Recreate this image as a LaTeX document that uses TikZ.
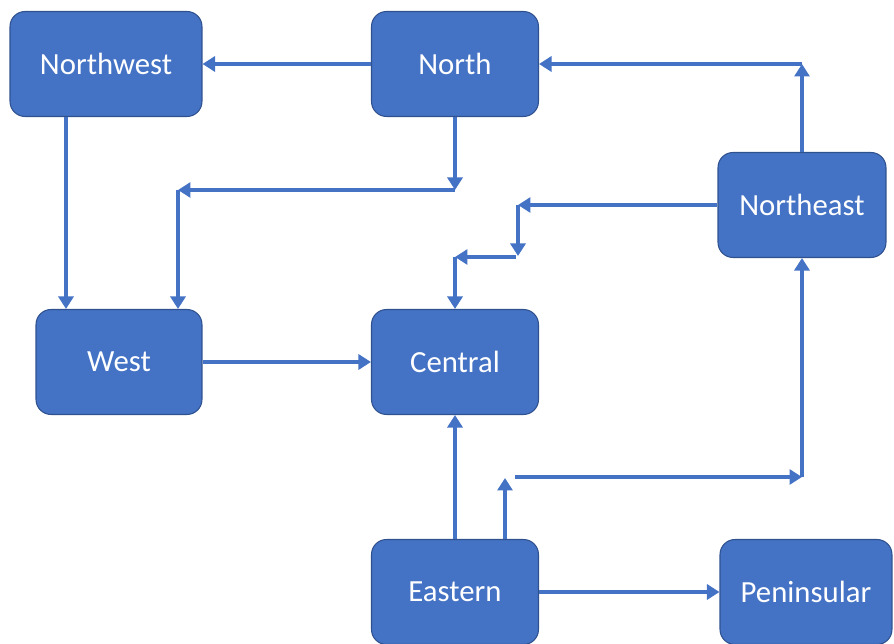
\documentclass[tikz,border=0pt]{standalone}
\usepackage{fontspec}
\setmainfont{Carlito}
\usetikzlibrary{arrows.meta}
\definecolor{boxblue}{HTML}{4472C4}
\definecolor{boxedge}{HTML}{2F528F}

\begin{document}
\begin{tikzpicture}[x=0.02cm, y=-0.02cm]
    \tikzset{region/.style={draw=boxedge, fill=boxblue, line width=0.6pt, rounded corners=0.3cm,
            text=white, minimum width=3.34cm, minimum height=2.1cm, font=\fontsize{17.5}{20}\selectfont},
        link/.style={draw=boxblue, line width=0.08cm, -{Triangle[length=0.25cm, width=0.3cm]}}}
    \useasboundingbox (0,0) rectangle (894,644);
    \node[region, minimum width=3.84cm] (NW) at (106,64) {Northwest};
    \node[region] (N) at (455,64) {North};
    \node[region, minimum width=3.36cm] (NE) at (802,205) {Northeast};
    \node[region, minimum width=3.32cm] (W) at (119,362) {West};
    \node[region] (C) at (455,362) {Central};
    \node[region] (E) at (455,592) {Eastern};
    \node[region, minimum width=3.44cm] (P) at (806,592) {Peninsular};
    \coordinate (c1) at (66,200);
    \coordinate (c2) at (455,190);
    \coordinate (c3) at (178,190);
    \coordinate (c4) at (802,64);
    \coordinate (c5) at (518,205);
    \coordinate (c6) at (518,256);
    \coordinate (c7) at (516,257);
    \coordinate (c8) at (455,257);
    \coordinate (c9) at (505,478);
    \coordinate (c10) at (515,477);
    \coordinate (c11) at (802,477);
    \draw[link] (N.west) -- (NW.east);
    \draw[link] (NW.south -| c1) -- (W.north -| c1);
    \draw[link] (N.south) -- (c2);
    \draw[link] (c2) -- (c3);
    \draw[link] (c3) -- (W.north -| c3);
    \draw[link] (NE.north) -- (c4);
    \draw[link] (c4) -- (N.east);
    \draw[link] (NE.west) -- (c5);
    \draw[link] (c5) -- (c6);
    \draw[link] (c7) -- (c8);
    \draw[link] (c8) -- (C.north);
    \draw[link] (W.east) -- (C.west);
    \draw[link] (E.north) -- (C.south);
    \draw[link] (E.north -| c9) -- (c9);
    \draw[link] (c10) -- (c11);
    \draw[link] (c11) -- (NE.south);
    \draw[link] (E.east) -- (P.west);
\end{tikzpicture}
\end{document}
